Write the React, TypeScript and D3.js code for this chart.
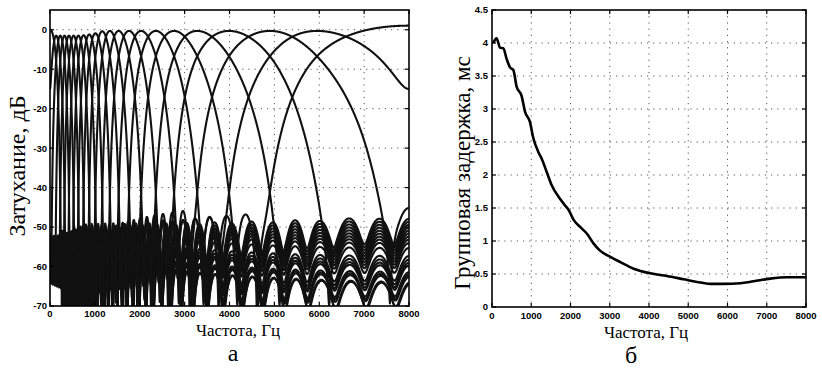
import React, { useMemo } from 'react';
import * as d3 from 'd3';

// ---------------- Panel (a): filter bank ----------------
// centre frequency of every channel, Hz (read from the arch tops)
const bandCenters = [45, 137, 229, 324, 423, 526, 633, 749, 875, 1012, 1165, 1335, 1531, 1761, 2031, 2359, 2765, 3281, 3990, 4900, 5950, 7290];
// peak level of every channel, dB
const bandGainDb = [-1.5, -1.5, -1.5, -1.5, -1.5, -1.5, -1.5, -1.4, -1.2, -0.9, -0.4, -0.3, -0.3, -0.3, -0.3, -0.3, -0.3, -0.3, -0.3, -0.3, -0.3, -0.3];
// level of the first side lobe of every channel, dB
const sidelobeDb = [-52, -52, -51, -51, -51, -50, -50, -50, -50, -49, -49, -49, -49, -49, -49, -49, -49, -49, -49, -47, -49, -49];
const sidelobeDecayDb = 0.38; // drop per further side lobe
const sidelobeWidth = 0.5; // side-lobe width, in channel spacings
const mainLobeHalf = 2.35; // main-lobe half width, in channel spacings
const mainLobePower = 3.7; // main-lobe sharpness

const freqTicks = [0, 1000, 2000, 3000, 4000, 5000, 6000, 7000, 8000];
const attTicks = [0, -10, -20, -30, -40, -50, -60, -70];

// ---------------- Panel (б): group delay ----------------
const delayFreqHz = [33, 117, 204, 288, 372, 459, 543, 627, 754, 841, 968, 1052, 1180, 1264, 1391, 1518, 1732, 1860, 1953, 2080, 2250, 2420, 2590, 2760, 3014, 3269, 3608, 4033, 4458, 4882, 5222, 5562, 5902, 6326, 6666, 7091, 7516, 8000];
const delayMs = [4.0, 4.07, 3.93, 3.92, 3.76, 3.63, 3.59, 3.34, 3.2, 2.96, 2.8, 2.56, 2.35, 2.25, 2.05, 1.85, 1.64, 1.54, 1.47, 1.32, 1.21, 1.11, 0.96, 0.85, 0.76, 0.68, 0.58, 0.51, 0.47, 0.42, 0.38, 0.35, 0.35, 0.36, 0.39, 0.43, 0.45, 0.45];
const delayTicks = [0, 0.5, 1, 1.5, 2, 2.5, 3, 3.5, 4, 4.5];

const W = 822;
const H = 368;
const A = { x0: 50, x1: 409, y0: 10, y1: 306 };
const B = { x0: 492, x1: 806, y0: 10, y1: 307 };

function monotoneMap(ys: number[]) {
  const n = ys.length;
  const d: number[] = [];
  const m: number[] = [];
  for (let i = 0; i < n - 1; i++) d[i] = ys[i + 1] - ys[i];
  m[0] = d[0];
  m[n - 1] = d[n - 2];
  for (let i = 1; i < n - 1; i++) m[i] = d[i - 1] * d[i] <= 0 ? 0 : (d[i - 1] + d[i]) / 2;
  for (let i = 0; i < n - 1; i++) {
    const a = m[i] / d[i];
    const b = m[i + 1] / d[i];
    const s = a * a + b * b;
    if (s > 9) {
      const t = 3 / Math.sqrt(s);
      m[i] = t * a * d[i];
      m[i + 1] = t * b * d[i];
    }
  }
  return (x: number) => {
    if (x <= 0) return ys[0] + d[0] * x;
    if (x >= n - 1) return ys[n - 1] + d[n - 2] * (x - (n - 1));
    const i = Math.floor(x);
    const t = x - i;
    const t2 = t * t, t3 = t2 * t;
    return (2 * t3 - 3 * t2 + 1) * ys[i] + (t3 - 2 * t2 + t) * m[i] + (-2 * t3 + 3 * t2) * ys[i + 1] + (t3 - t2) * m[i + 1];
  };
}

function lobe(x: number, slDb: number) {
  const a = Math.abs(x);
  if (a < mainLobeHalf) {
    const r = a / mainLobeHalf;
    return Math.pow(Math.max(0, 1 - r * r), mainLobePower);
  }
  const mm = (a - mainLobeHalf) / sidelobeWidth;
  const j = Math.floor(mm);
  const u = mm - j;
  return Math.pow(10, (slDb - sidelobeDecayDb * j) / 20) * Math.abs(Math.sin(Math.PI * u));
}

export default function App() {
  const xA = d3.scaleLinear().domain([0, 8000]).range([A.x0, A.x1]);
  const yA = d3.scaleLinear().domain([-70, 5]).range([A.y1, A.y0]);
  const xB = d3.scaleLinear().domain([0, 8000]).range([B.x0, B.x1]);
  const yB = d3.scaleLinear().domain([0, 4.5]).range([B.y1, B.y0]);

  const { bandPaths, delayPath } = useMemo(() => {
    const n = bandCenters.length;
    const fOf = monotoneMap(bandCenters);
    const bDC = -bandCenters[0] / (bandCenters[1] - bandCenters[0]);
    const bNyq = n - 1 + (8000 - bandCenters[n - 1]) / (bandCenters[n - 1] - bandCenters[n - 2]);
    const step = 0.006;
    const line = d3
      .line<[number, number]>()
      .x((p) => xA(p[0]))
      .y((p) => yA(p[1]));
    const paths: string[] = [];
    for (let k = 0; k < n; k++) {
      const g = Math.pow(10, bandGainDb[k] / 20);
      const pts: [number, number][] = [];
      for (let b = bDC; b <= bNyq + 1e-9; b += step) {
        const bb = Math.min(b, bNyq);
        const f = Math.max(0, Math.min(8000, fOf(bb)));
        const m1 = lobe(bb - k, sidelobeDb[k]);
        const m2 = lobe(2 * bDC - bb - k, sidelobeDb[k]);
        const m3 = lobe(2 * bNyq - bb - k, sidelobeDb[k]);
        const mag = g * Math.sqrt(m1 * m1 + m2 * m2 + m3 * m3);
        let db = 20 * Math.log10(Math.max(mag, 1e-6));
        db = Math.max(-72, Math.min(6, db));
        pts.push([f, db]);
      }
      paths.push(line(pts) || '');
    }
    const dl = d3
      .line<number>()
      .x((_, i) => xB(delayFreqHz[i]))
      .y((v) => yB(v))
      .curve(d3.curveMonotoneX);
    return { bandPaths: paths, delayPath: dl(delayMs) || '' };
  }, []);

  const tickFont = { fontFamily: '"Liberation Sans", Arial, sans-serif', fontWeight: 700, fontSize: 9.5 } as const;
  const serif = '"Liberation Serif", "Times New Roman", serif';
  const grid = { stroke: '#444', strokeWidth: 0.9, strokeDasharray: '1.2 5', fill: 'none' } as const;

  return (
    <div>
      <style>{`html,body{margin:0;padding:0;background:#fff}`}</style>
      <svg width={W} height={H} viewBox={`0 0 ${W} ${H}`} style={{ display: 'block' }}>
        <rect x={0} y={0} width={W} height={H} fill="#fff" />
        <defs>
          <clipPath id="clipA">
            <rect x={A.x0} y={A.y0} width={A.x1 - A.x0} height={A.y1 - A.y0} />
          </clipPath>
          <clipPath id="clipB">
            <rect x={B.x0} y={B.y0} width={B.x1 - B.x0} height={B.y1 - B.y0} />
          </clipPath>
        </defs>

        {/* ---------- panel a ---------- */}
        <g>
          {freqTicks.slice(1, -1).map((t) => (
            <line key={'ga' + t} x1={xA(t)} x2={xA(t)} y1={A.y0} y2={A.y1} {...grid} />
          ))}
          {attTicks.slice(0, -1).map((t) => (
            <line key={'gh' + t} x1={A.x0} x2={A.x1} y1={yA(t)} y2={yA(t)} {...grid} />
          ))}
          <g clipPath="url(#clipA)">
            {bandPaths.map((d, i) => (
              <path key={i} d={d} fill="none" stroke="#111" strokeWidth={2.1} strokeLinejoin="round" />
            ))}
          </g>
          <rect x={A.x0} y={A.y0} width={A.x1 - A.x0} height={A.y1 - A.y0} fill="none" stroke="#000" strokeWidth={1.6} />
          {freqTicks.map((t) => (
            <g key={'ta' + t}>
              <line x1={xA(t)} x2={xA(t)} y1={A.y1} y2={A.y1 - 4} stroke="#000" strokeWidth={1.2} />
              <line x1={xA(t)} x2={xA(t)} y1={A.y0} y2={A.y0 + 4} stroke="#000" strokeWidth={1.2} />
              <text x={xA(t)} y={317} textAnchor="middle" {...tickFont}>{String(t)}</text>
            </g>
          ))}
          {attTicks.map((t) => (
            <g key={'tya' + t}>
              <line x1={A.x0} x2={A.x0 + 4} y1={yA(t)} y2={yA(t)} stroke="#000" strokeWidth={1.2} />
              <line x1={A.x1} x2={A.x1 - 4} y1={yA(t)} y2={yA(t)} stroke="#000" strokeWidth={1.2} />
              <text x={47} y={yA(t) + 3.4} textAnchor="end" {...tickFont}>{String(t)}</text>
            </g>
          ))}
          <text transform="translate(25,166) rotate(-90)" textAnchor="middle" fontFamily={serif} fontSize={24}>Затухание, дБ</text>
          <text x={238} y={336} textAnchor="middle" fontFamily={serif} fontSize={17}>Частота, Гц</text>
          <text x={233} y={361} textAnchor="middle" fontFamily={serif} fontSize={24}>а</text>
        </g>

        {/* ---------- panel б ---------- */}
        <g>
          {freqTicks.slice(1, -1).map((t) => (
            <line key={'gb' + t} x1={xB(t)} x2={xB(t)} y1={B.y0} y2={B.y1} {...grid} />
          ))}
          {delayTicks.slice(1, -1).map((t) => (
            <line key={'gbh' + t} x1={B.x0} x2={B.x1} y1={yB(t)} y2={yB(t)} {...grid} />
          ))}
          <g clipPath="url(#clipB)">
            <path d={delayPath} fill="none" stroke="#000" strokeWidth={2.6} strokeLinejoin="round" />
          </g>
          <rect x={B.x0} y={B.y0} width={B.x1 - B.x0} height={B.y1 - B.y0} fill="none" stroke="#000" strokeWidth={1.6} />
          {freqTicks.map((t) => (
            <g key={'tb' + t}>
              <line x1={xB(t)} x2={xB(t)} y1={B.y1} y2={B.y1 - 4} stroke="#000" strokeWidth={1.2} />
              <line x1={xB(t)} x2={xB(t)} y1={B.y0} y2={B.y0 + 4} stroke="#000" strokeWidth={1.2} />
              <text x={xB(t)} y={319} textAnchor="middle" {...tickFont}>{String(t)}</text>
            </g>
          ))}
          {delayTicks.map((t) => (
            <g key={'tyb' + t}>
              <line x1={B.x0} x2={B.x0 + 4} y1={yB(t)} y2={yB(t)} stroke="#000" strokeWidth={1.2} />
              <line x1={B.x1} x2={B.x1 - 4} y1={yB(t)} y2={yB(t)} stroke="#000" strokeWidth={1.2} />
              <text x={488} y={yB(t) + 3.4} textAnchor="end" {...tickFont}>{String(t)}</text>
            </g>
          ))}
          <text transform="translate(470,173) rotate(-90)" textAnchor="middle" fontFamily={serif} fontSize={23}>Групповая задержка, мс</text>
          <text x={646} y={338} textAnchor="middle" fontFamily={serif} fontSize={17}>Частота, Гц</text>
          <text x={631} y={363} textAnchor="middle" fontFamily={serif} fontSize={24}>б</text>
        </g>
      </svg>
    </div>
  );
}
